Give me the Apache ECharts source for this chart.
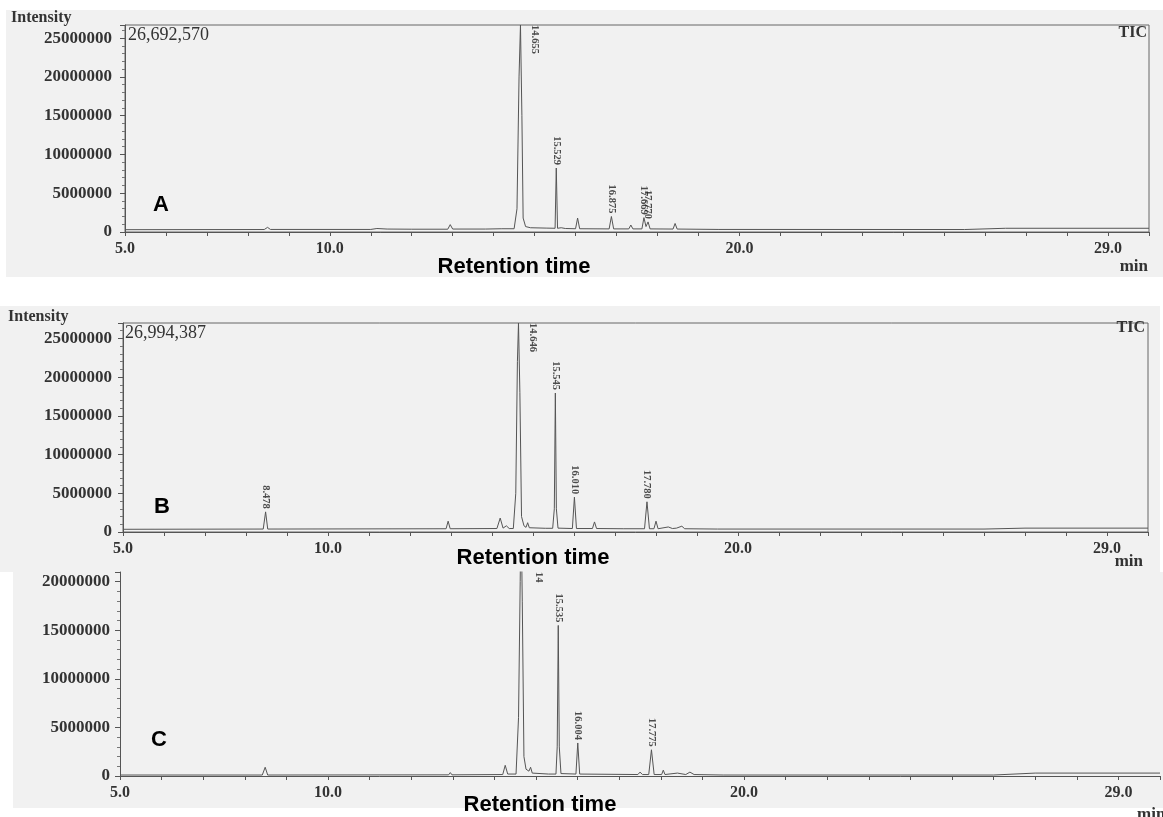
<!DOCTYPE html>
<html>
<head>
<meta charset="utf-8">
<script src="https://cdn.jsdelivr.net/npm/echarts@6/dist/echarts.min.js"></script>
<style>
html,body{margin:0;padding:0;background:#fff;}
#chart{width:1163px;height:817px;}
</style>
</head>
<body>
<div id="chart"></div>
<script>
// ---------- DATA ----------
const xTickLabelValues = [5, 10, 20, 29];
const yTickStep = 5000000;

// Panel A
const maxA = 26692570;
const traceA = [
  [5.0, 300000], [8.40, 320000], [8.48, 600000], [8.55, 330000],
  [11.0, 330000], [11.15, 450000], [11.4, 380000], [12.0, 360000],
  [12.88, 360000], [12.94, 950000], [13.0, 380000], [13.8, 380000], [14.2, 420000],
  [14.50, 420000], [14.57, 3000000], [14.62, 20000000], [14.655, 26692570], [14.69, 15000000],
  [14.72, 1800000], [14.78, 700000], [14.9, 550000], [15.3, 500000],
  [15.50, 480000], [15.529, 8250000], [15.56, 480000], [15.65, 550000], [15.75, 450000],
  [16.0, 420000], [16.05, 1800000], [16.1, 420000],
  [16.82, 400000], [16.875, 2000000], [16.93, 400000],
  [17.3, 400000], [17.35, 900000], [17.4, 400000],
  [17.62, 400000], [17.669, 1850000], [17.72, 700000], [17.77, 1300000], [17.82, 400000],
  [18.38, 380000], [18.43, 1100000], [18.48, 380000],
  [19.5, 330000], [25.5, 320000], [26.5, 480000], [30.0, 480000]
];
const peakTimesA = [14.655, 15.529, 16.875, 17.669, 17.770];
const peakHeightsA = [26692570, 8250000, 2000000, 1850000, 1300000];
const peakTextA = ['14.655', '15.529', '16.875', '17.669', '17.770'];

// Panel B
const maxB = 26994387;
const traceB = [
  [5.0, 350000], [8.42, 380000], [8.478, 2600000], [8.53, 380000],
  [12.88, 420000], [12.93, 1400000], [12.98, 420000],
  [14.12, 450000], [14.2, 1800000], [14.27, 500000], [14.35, 800000], [14.42, 450000],
  [14.52, 450000], [14.58, 5000000], [14.62, 22000000], [14.646, 26994387], [14.68, 18000000],
  [14.72, 2000000], [14.78, 800000], [14.83, 600000], [14.87, 1200000], [14.91, 550000], [15.3, 480000],
  [15.48, 480000], [15.52, 3000000], [15.545, 17950000], [15.57, 3000000], [15.61, 500000],
  [15.96, 450000], [16.010, 4500000], [16.06, 450000],
  [16.45, 450000], [16.5, 1300000], [16.55, 450000], [17.2, 420000],
  [17.72, 420000], [17.780, 3900000], [17.84, 420000],
  [17.95, 420000], [18.0, 1400000], [18.05, 420000],
  [18.3, 650000], [18.4, 450000], [18.5, 500000], [18.63, 750000], [18.7, 420000],
  [19.5, 380000], [26.0, 380000], [27.0, 500000], [30.0, 500000]
];
const peakTimesB = [8.478, 14.646, 15.545, 16.010, 17.780];
const peakHeightsB = [2600000, 26994387, 17950000, 4500000, 3900000];
const peakTextB = ['8.478', '14.646', '15.545', '16.010', '17.780'];

// Panel C
const maxC = 21000000;
const traceC = [
  [5.0, 100000], [8.42, 100000], [8.49, 900000], [8.55, 100000],
  [12.9, 120000], [12.94, 350000], [12.98, 120000],
  [14.2, 150000], [14.26, 1100000], [14.32, 200000],
  [14.52, 200000], [14.58, 6000000], [14.62, 20000000], [14.64, 28000000], [14.67, 18000000],
  [14.71, 2000000], [14.76, 700000], [14.83, 500000], [14.87, 900000], [14.91, 300000], [15.3, 200000],
  [15.48, 200000], [15.51, 3000000], [15.535, 15500000], [15.56, 3000000], [15.6, 250000],
  [15.96, 200000], [16.004, 3400000], [16.05, 200000],
  [17.45, 150000], [17.5, 400000], [17.56, 150000],
  [17.71, 150000], [17.775, 2700000], [17.84, 150000],
  [18.02, 150000], [18.06, 600000], [18.1, 150000],
  [18.4, 300000], [18.6, 150000], [18.7, 400000], [18.8, 150000],
  [19.5, 100000], [26.0, 100000], [27.0, 300000], [30.0, 300000]
];
const peakTimesC = [14.64, 15.535, 16.004, 17.775];
const peakHeightsC = [28000000, 15500000, 3400000, 2700000];
const peakTextC = ['14', '15.535', '16.004', '17.775'];

// ---------- CHART ----------
const chart = echarts.init(document.getElementById('chart'), null, {renderer: 'canvas'});
const axisColor = '#555';
const textColor = '#333';
const serif = '"Liberation Serif", "DejaVu Serif", serif';

function xAxisFor(gi) {
  return {
    type: 'value', gridIndex: gi, min: 5, max: 30, interval: 1,
    axisLine: {show: true, lineStyle: {color: axisColor, width: 1}},
    axisTick: {show: true, length: 4, lineStyle: {color: axisColor}},
    splitLine: {show: false},
    axisLabel: {
      margin: 9, color: textColor, fontFamily: serif, fontWeight: 'bold', fontSize: 16,
      formatter: v => xTickLabelValues.indexOf(v) >= 0 ? v.toFixed(1) : ''
    }
  };
}
function yAxisFor(gi, max, margin) {
  return {
    type: 'value', gridIndex: gi, min: 0, max: max, interval: yTickStep,
    axisLine: {show: true, lineStyle: {color: axisColor, width: 1}},
    axisTick: {show: true, length: 5, lineStyle: {color: axisColor}},
    minorTick: {show: true, splitNumber: 5, length: 3, lineStyle: {color: '#777'}},
    splitLine: {show: false},
    axisLabel: {
      margin: margin, color: textColor, fontFamily: serif, fontWeight: 'bold', fontSize: 17,
      formatter: v => (v % yTickStep === 0) ? String(v) : ''
    }
  };
}
function labelData(times, heights, texts, yMax, topDist) {
  return times.map((t, i) => {
    const top = heights[i] >= yMax;
    return {
      name: texts[i],
      value: [t, top ? yMax : heights[i]],
      label: top
        ? {position: 'right', distance: topDist, align: 'left', verticalAlign: 'middle'}
        : {position: 'top', distance: 3, align: 'right', verticalAlign: 'middle'}
    };
  });
}
function traceSeries(gi, data) {
  return {
    type: 'line', xAxisIndex: gi, yAxisIndex: gi, data: data,
    showSymbol: false, symbol: 'none', clip: true, sampling: null,
    lineStyle: {color: '#555', width: 1}, z: 3
  };
}
function labelSeries(gi, data) {
  return {
    type: 'scatter', xAxisIndex: gi, yAxisIndex: gi, data: data,
    symbolSize: 0, clip: false, silent: true, z: 4,
    label: {
      show: true, rotate: -90, formatter: '{b}',
      color: '#222', fontFamily: serif, fontSize: 10.5, fontWeight: 'bold'
    }
  };
}

function txt(x, y, text, font, align, fill) {
  return {
    type: 'text', x: x, y: y, z: 100, silent: true,
    style: {text: text, font: font, fill: fill || textColor, align: align, textAlign: align,
            verticalAlign: 'middle', textVerticalAlign: 'middle'}
  };
}
const bg = '#f1f1f1';
const sansBig = 'bold 22px Arial, "Liberation Sans", sans-serif';
const letterFont = 'bold 22px Arial, "Liberation Sans", sans-serif';

const option = {
  animation: false,
  backgroundColor: '#ffffff',
  grid: [
    {left: 125, top: 25, width: 1024, height: 207, show: true, borderColor: '#666', borderWidth: 1, backgroundColor: 'transparent'},
    {left: 123, top: 323, width: 1025, height: 209, show: true, borderColor: '#666', borderWidth: 1, backgroundColor: 'transparent'},
    {left: 120, top: 572, width: 1045, height: 204, show: false}
  ],
  xAxis: [xAxisFor(0), xAxisFor(1), xAxisFor(2)],
  yAxis: [yAxisFor(0, maxA, 13), yAxisFor(1, maxB, 11), yAxisFor(2, maxC, 10)],
  series: [
    traceSeries(0, traceA), labelSeries(0, labelData(peakTimesA, peakHeightsA, peakTextA, maxA, 14)),
    traceSeries(1, traceB), labelSeries(1, labelData(peakTimesB, peakHeightsB, peakTextB, maxB, 14)),
    traceSeries(2, traceC), labelSeries(2, labelData(peakTimesC, peakHeightsC, peakTextC, maxC, 18))
  ],
  graphic: [
    {type: 'rect', z: -100, silent: true, shape: {x: 6, y: 10, width: 1157, height: 267}, style: {fill: bg}},
    {type: 'rect', z: -100, silent: true, shape: {x: 0, y: 306, width: 1160, height: 266}, style: {fill: bg}},
    {type: 'rect', z: -100, silent: true, shape: {x: 13, y: 572, width: 1150, height: 236}, style: {fill: bg}},

    txt(11, 18, 'Intensity', 'bold 16px ' + serif, 'left'),
    txt(128, 35, '26,692,570', '18px ' + serif, 'left'),
    txt(1147, 33, 'TIC', 'bold 16px ' + serif, 'right'),
    txt(161, 205, 'A', letterFont, 'center', '#000'),
    txt(514, 267, 'Retention time', sansBig, 'center', '#000'),
    txt(1148, 267, 'min', 'bold 17px ' + serif, 'right'),

    txt(8, 317, 'Intensity', 'bold 16px ' + serif, 'left'),
    txt(125, 333, '26,994,387', '18px ' + serif, 'left'),
    txt(1145, 328, 'TIC', 'bold 16px ' + serif, 'right'),
    txt(162, 507, 'B', letterFont, 'center', '#000'),
    txt(533, 558, 'Retention time', sansBig, 'center', '#000'),
    txt(1143, 562, 'min', 'bold 17px ' + serif, 'right'),

    txt(159, 740, 'C', letterFont, 'center', '#000'),
    txt(540, 805, 'Retention time', sansBig, 'center', '#000'),
    txt(1137, 815, 'min', 'bold 17px ' + serif, 'left')
  ]
};
chart.setOption(option);
</script>
</body>
</html>
